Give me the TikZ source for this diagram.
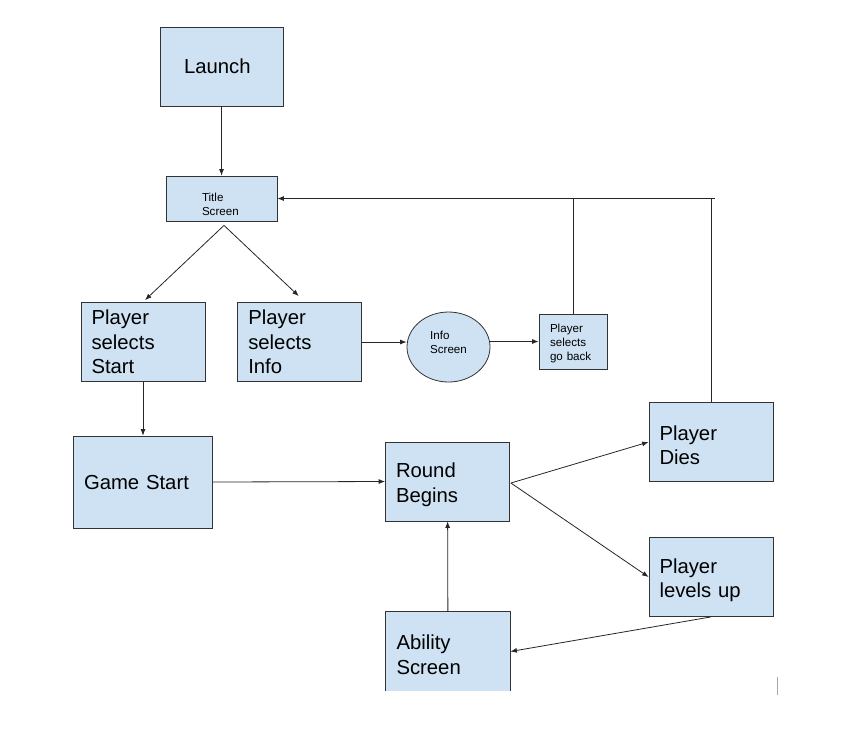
\documentclass[tikz,border=0pt]{standalone}
\usepackage{fontspec}
\setmainfont{Liberation Sans}
\usetikzlibrary{positioning,shapes.geometric,arrows.meta,calc}
\definecolor{boxblue}{HTML}{CFE2F3}
\definecolor{edge}{HTML}{333333}
\newcommand{\bigtext}{\fontsize{20.3}{24.4}\selectfont}
\newcommand{\smalltext}{\fontsize{11.6}{14.3}\selectfont}

\begin{document}
\begin{tikzpicture}[x=1pt,y=-1pt,
    box/.style={draw=edge,fill=boxblue,line width=0.8pt,align=left,inner xsep=10.5pt,
      inner ysep=0pt,text width=103pt,minimum height=79pt,font=\bigtext},
    twoline/.style={text height=21pt},
    smallbox/.style={box,font=\smalltext},
    flow/.style={draw=black!85,line width=0.8pt,-{Latex[length=6.5pt,width=5pt]}},
    link/.style={draw=black!85,line width=0.8pt}]
  \useasboundingbox (0,0) rectangle (858,740);
  % row 1
  \node [box,inner xsep=24pt,text width=75pt] (launch) at (221.5,66.5) {Launch};
  \node [smallbox,inner xsep=36pt,text width=39pt,minimum height=45pt,text height=19.5pt] (title) at (221.5,198.5) {Title\\Screen};
  % row 2
  \node [box] (start) at (143,342) {Player\\selects\\Start};
  \node [box,right=32pt of start] (info) {Player\\selects\\Info};
  \node [ellipse,draw=edge,fill=boxblue,line width=0.8pt,minimum width=83pt,minimum height=70pt,
    inner sep=0pt,align=left,font=\smalltext,text depth=10pt] (infoscr) at (448.5,347) {Info\\Screen};
  \node [smallbox,inner xsep=11pt,text width=46pt,minimum height=55pt,text height=12.5pt] (goback) at (573,341.5) {Player\\selects\\go back};
  % row 3
  \node [box,text width=118pt,minimum height=92pt] (game) at (143,482) {Game Start};
  \node [box,twoline] (round) at (447.5,481.5) {Round\\Begins};
  \node [box,twoline] (dies) at (711,442) {Player\\Dies};
  % row 4
  \node [box,twoline] (lvl) at (711,577) {Player\\levels up};
  \node [box,twoline,draw=none] (abil) at (448,651.5) {Ability\\Screen};
  \draw [draw=edge,line width=0.8pt] (abil.south west) -- (abil.north west) -- (abil.north east) -- (abil.south east);

  % links
  \draw [flow] (launch) -- (title);
  \draw [flow] ($(title.south)+(2.5,4)$) -- ($(start.north)+(2,-2)$);
  \draw [flow] ($(title.south)+(2.5,4)$) -- ($(info.north)+(-1,-6)$);
  \draw [flow] (info.east) -- (info.east -| infoscr.west);
  \draw [flow] (goback.west -| infoscr.east) -- (goback.west);
  \draw [flow] (goback.north) |- (title.east);
  \coordinate (corner) at ($(dies.north |- title.east)+(4,0)$);
  \draw [link] (dies.north) -- (dies.north |- title.east);
  \draw [link] (corner) -- (goback.north |- title.east);
  \draw [flow] (start) -- (game);
  \draw [flow] (game.east) -- (round.west);
  \draw [flow] ($(round.east)+(1,1.5)$) -- (dies.west);
  \draw [flow] ($(round.east)+(1,1.5)$) -- (lvl.west);
  \draw [flow] (lvl.south) -- (abil.east);
  \draw [flow] (abil) -- (round);

  % stray mark
  \draw [gray!70,line width=1.8pt] (777.5,677) -- (777.5,695);
\end{tikzpicture}
\end{document}
